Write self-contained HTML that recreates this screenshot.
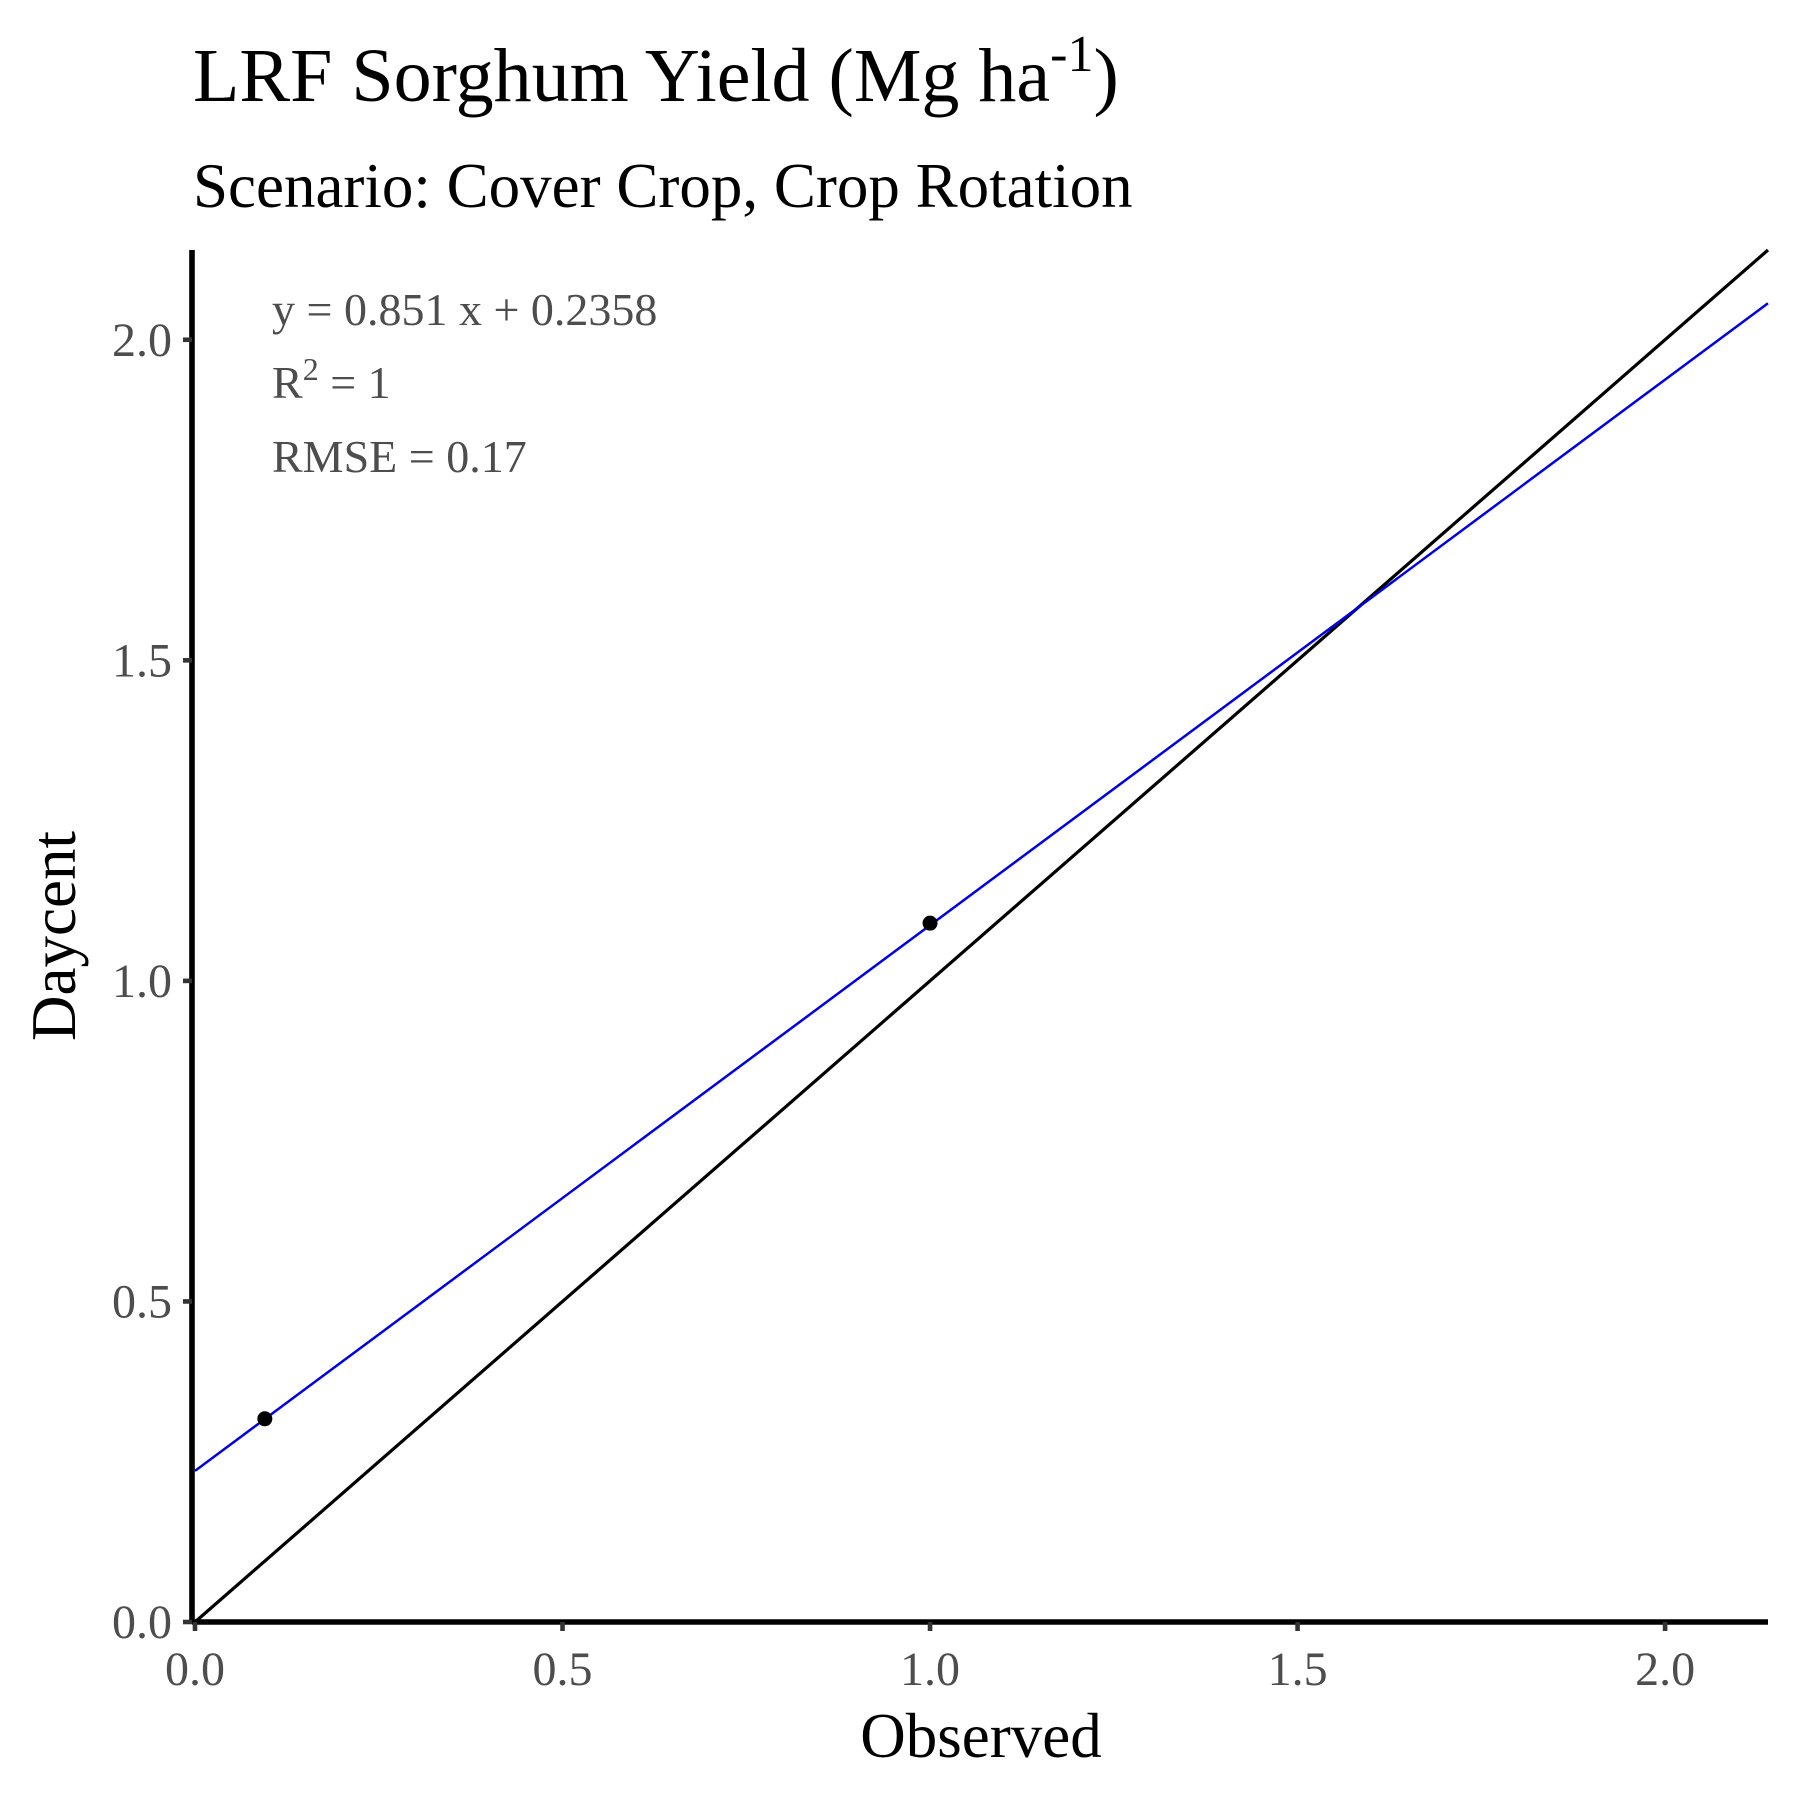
<!DOCTYPE html>
<html><head><meta charset="utf-8"><style>
html,body{margin:0;padding:0;background:#fff;}
svg{display:block;font-family:"Liberation Serif",serif;}
</style></head><body>
<svg id="chart" width="1800" height="1800" viewBox="0 0 1800 1800" xmlns="http://www.w3.org/2000/svg">
<rect width="1800" height="1800" fill="#fff"/>
<text x="193" y="101" font-size="76" fill="#000">LRF Sorghum Yield (Mg ha<tspan dy="-30" font-size="52">-1</tspan><tspan dy="30">)</tspan></text>
<text x="193" y="207" font-size="63" fill="#000">Scenario: Cover Crop, Crop Rotation</text>
<g id="plot"></g>
<text x="272" y="325" font-size="46" fill="#4d4d4d">y = 0.851 x + 0.2358</text>
<text x="272" y="398" font-size="46" fill="#4d4d4d">R<tspan dy="-18" font-size="32">2</tspan><tspan dy="18"> = 1</tspan></text>
<text x="272" y="472" font-size="46" fill="#4d4d4d">RMSE = 0.17</text>
<text x="981" y="1757" font-size="63" text-anchor="middle" fill="#000">Observed</text>
<text transform="translate(75,936) rotate(-90)" font-size="63" text-anchor="middle" fill="#000">Daycent</text>
</svg>
<script>
const observed = [0.095, 1.0];
const daycent = [0.317, 1.09];
const xTicks = [0, 0.5, 1.0, 1.5, 2.0];
const yTicks = [0, 0.5, 1.0, 1.5, 2.0];
const xTickLabels = ["0.0","0.5","1.0","1.5","2.0"];
const yTickLabels = ["0.0","0.5","1.0","1.5","2.0"];
const slope = [0.851];
const intercept = [0.2358];
const axisMax = [2.14];

const NS = "http://www.w3.org/2000/svg";
const plotLeft = 195, plotRight = 1768, plotBottom = 1622, plotTop = 250;
const xs = v => plotLeft + v / axisMax[0] * (plotRight - plotLeft);
const ys = v => plotBottom - v / axisMax[0] * (plotBottom - plotTop);
const g = document.getElementById('plot');
function mk(tag, attrs) { const e = document.createElementNS(NS, tag); for (const k in attrs) e.setAttribute(k, attrs[k]); g.appendChild(e); return e; }

let l = mk('line', {x1: xs(0), y1: ys(0), x2: xs(axisMax[0]), y2: ys(axisMax[0]), stroke: '#000', 'stroke-width': 3.2});


let r = mk('line', {x1: xs(0), y1: ys(intercept[0]), x2: xs(axisMax[0]), y2: ys(slope[0] * axisMax[0] + intercept[0]), stroke: '#0000ee', 'stroke-width': 2.5});


observed.forEach((o, i) => {
  const c = mk('circle', {cx: xs(o), cy: ys(daycent[i]), r: 7.5, fill: '#000'});
  
  
});
let ax = mk('line', {x1: plotLeft - 3, y1: plotBottom, x2: plotRight, y2: plotBottom, stroke: '#000', 'stroke-width': 5.6});


let ay = mk('line', {x1: plotLeft - 3, y1: plotTop, x2: plotLeft - 3, y2: plotBottom + 2, stroke: '#000', 'stroke-width': 5.6});


xTicks.forEach((t, i) => {
  const tk = mk('line', {x1: xs(t), y1: plotBottom, x2: xs(t), y2: plotBottom + 9, stroke: '#333', 'stroke-width': 4.6});
  
  
  const tx = mk('text', {x: xs(t), y: 1685, 'font-size': 48, 'text-anchor': 'middle', fill: '#4d4d4d'});
  tx.textContent = xTickLabels[i];
  
  
});
yTicks.forEach((t, i) => {
  const tk = mk('line', {x1: plotLeft - 12, y1: ys(t), x2: plotLeft - 3, y2: ys(t), stroke: '#333', 'stroke-width': 4.6});
  
  
  const tx = mk('text', {x: 172, y: ys(t) + 16, 'font-size': 48, 'text-anchor': 'end', fill: '#4d4d4d'});
  tx.textContent = yTickLabels[i];
  
  
});
</script>
</body></html>
